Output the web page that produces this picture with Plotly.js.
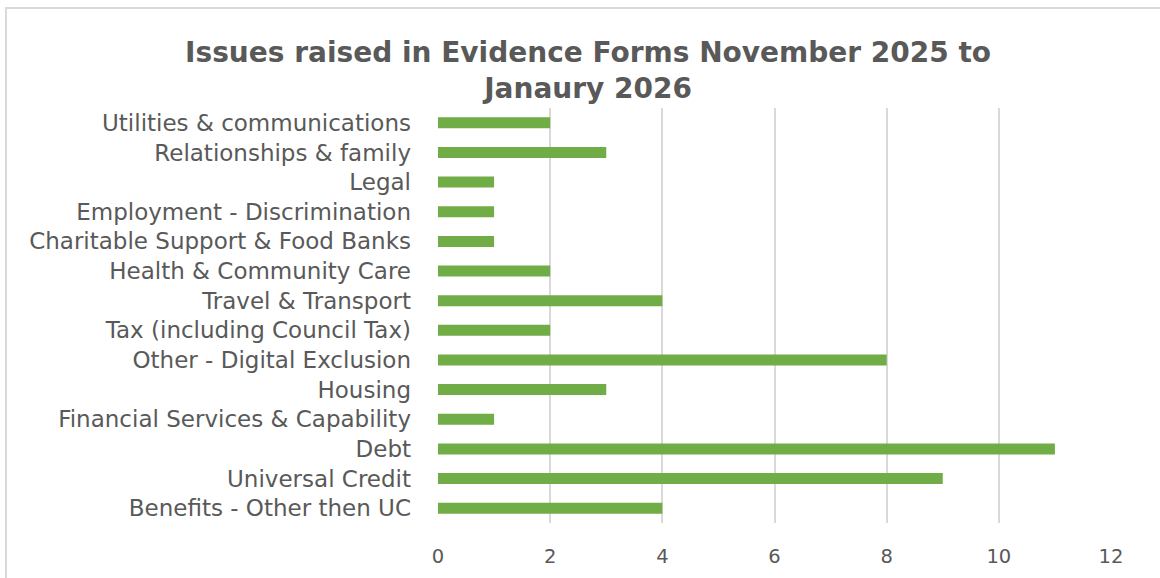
<!DOCTYPE html>
<html>
<head>
<meta charset="utf-8">
<script src="https://cdn.plot.ly/plotly-3.0.1.min.js"></script>
<style>
html,body{margin:0;padding:0;background:#fff;}
#wrap{position:relative;width:1160px;height:578px;overflow:hidden;}
#chart{width:1160px;height:578px;}
#frame{position:absolute;left:5px;top:7px;width:1200px;height:620px;border:2px solid #d9d9d9;pointer-events:none;box-sizing:border-box;}
</style>
</head>
<body>
<div id="wrap"><div id="chart"></div><div id="frame"></div></div>
<script>
const categories = [
  "Utilities & communications",
  "Relationships & family",
  "Legal",
  "Employment - Discrimination",
  "Charitable Support & Food Banks",
  "Health & Community Care",
  "Travel & Transport",
  "Tax (including Council Tax)",
  "Other - Digital Exclusion",
  "Housing",
  "Financial Services & Capability",
  "Debt",
  "Universal Credit",
  "Benefits - Other then UC"
];
const counts = [2, 3, 1, 1, 1, 2, 4, 2, 8, 3, 1, 11, 9, 4];
const xTicks = [0, 2, 4, 6, 8, 10, 12];
const titleText = "Issues raised in Evidence Forms November 2025 to<br>Janaury 2026";

const FONT = "DejaVu Sans, sans-serif";
const GREY = "#595959";

Plotly.newPlot("chart", [{
  type: "bar",
  orientation: "h",
  y: categories,
  x: counts,
  width: 0.37,
  marker: {color: "#70AD47"},
  hoverinfo: "x+y"
}], {
  width: 1160,
  height: 578,
  margin: {l: 438, r: 49, t: 108, b: 55},
  paper_bgcolor: "#fff",
  plot_bgcolor: "#fff",
  showlegend: false,
  title: {
    text: titleText,
    font: {family: FONT, size: 28, color: GREY, weight: 700},
    x: 0.507, xanchor: "center", xref: "container",
    y: 0.893, yanchor: "middle", yref: "container"
  },
  xaxis: {
    range: [0, 12],
    tickvals: xTicks,
    ticktext: xTicks.map(String),
    showgrid: true,
    gridcolor: "#d9d9d9",
    gridwidth: 2,
    zeroline: false,
    showline: false,
    ticks: "",
    ticklabelstandoff: 19,
    tickfont: {family: FONT, size: 19.5, color: GREY}
  },
  yaxis: {
    autorange: "reversed",
    showgrid: false,
    zeroline: false,
    showline: false,
    ticks: "",
    ticklabelstandoff: 26,
    tickfont: {family: FONT, size: 23, color: GREY}
  }
}, {displayModeBar: false, staticPlot: true});
</script>
</body>
</html>
